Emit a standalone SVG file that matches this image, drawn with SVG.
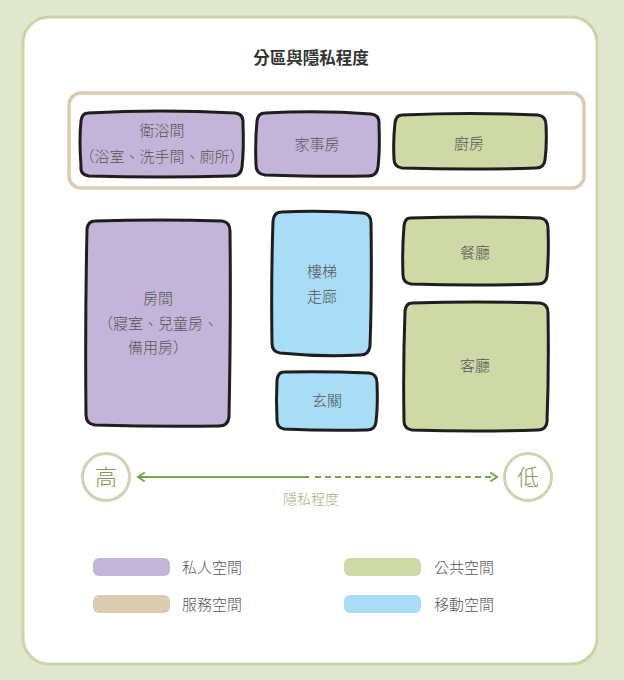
<svg xmlns="http://www.w3.org/2000/svg" width="624" height="680" viewBox="0 0 624 680">
<defs>
<style>
.t{font-family:"Noto Sans CJK TC","Noto Sans CJK SC",sans-serif;fill:#555;font-size:15px;text-anchor:middle;font-weight:300}
.room{stroke:#1e1e1e;stroke-width:3;stroke-linejoin:round}
.pv{fill:#c3b5d9}.pb{fill:#cfd8a7}.mv{fill:#a9dcf5}
.lg{font-family:"Noto Sans CJK TC","Noto Sans CJK SC",sans-serif;fill:#555;font-size:15px;font-weight:300}
</style>
<marker id="ah" viewBox="0 0 10 10" refX="8" refY="5" markerWidth="10" markerHeight="10" markerUnits="userSpaceOnUse" orient="auto-start-reverse">
<path d="M2,1 L8,5 L2,9" fill="none" stroke="#77a548" stroke-width="2" stroke-linecap="round"/>
</marker>
</defs>
<rect width="624" height="680" fill="#e1e7cd"/>
<rect x="23" y="17" width="574" height="647" rx="26" fill="#fff" stroke="#cad4ab" stroke-width="3"/>
<text x="311" y="64" class="t" style="font-weight:bold;fill:#333;font-size:16.5px">分區與隱私程度</text>

<g id="service-zone"><rect x="69" y="93" width="515" height="95" rx="12" fill="none" stroke="#dacbb3" stroke-width="3.5"/></g>

<g id="bathroom"><path class="room pv" d="M88,113 Q160,109 235,113 Q244,114 243,124 Q244,150 242,167 Q241,176 232,176 Q160,178 89,176 Q80,175 81,166 Q79,140 81,121 Q82,113 88,113Z"/>
<text x="162" y="136" class="t">衛浴間</text><text x="162" y="162" class="t">（浴室、洗手間、廁所）</text></g>
<g id="utility"><path class="room pv" d="M265,113 Q320,110 371,114 Q380,115 379,125 Q380,150 378,167 Q377,176 368,176 Q320,177 265,175 Q256,174 256,165 Q255,140 257,121 Q258,113 265,113Z"/>
<text x="317" y="150" class="t">家事房</text></g>
<g id="kitchen"><path class="room pb" d="M402,115 Q470,112 538,115 Q546,116 546,125 Q547,145 545,160 Q544,168 536,168 Q470,170 402,168 Q394,167 394,159 Q393,140 395,123 Q396,115 402,115Z"/>
<text x="469" y="149" class="t">廚房</text></g>

<g id="bedroom"><path class="room pv" d="M95,221 Q160,219 222,221 Q230,222 230,231 Q231,320 229,417 Q228,426 219,426 Q160,427 95,425 Q86,424 86,415 Q85,320 87,229 Q88,221 95,221Z"/>
<text x="158" y="304" class="t">房間</text><text x="158" y="329" class="t">（寢室、兒童房、</text><text x="158" y="353" class="t">備用房）</text></g>
<g id="corridor"><path class="room mv" d="M281,212 Q320,210 363,213 Q371,214 371,223 Q372,290 370,346 Q369,355 360,355 Q320,357 280,353 Q272,352 272,343 Q271,280 273,221 Q274,212 281,212Z"/>
<text x="322" y="277" class="t">樓梯</text><text x="322" y="302" class="t">走廊</text></g>
<g id="entrance"><path class="room mv" d="M284,372 Q325,371 369,373 Q377,374 377,383 Q378,405 376,422 Q375,430 367,430 Q325,431 284,429 Q277,428 277,420 Q276,400 277,380 Q278,372 284,372Z"/>
<text x="327" y="406" class="t">玄關</text></g>
<g id="dining"><path class="room pb" d="M410,218 Q475,216 540,218 Q548,219 548,228 Q549,255 547,276 Q546,284 538,284 Q475,286 411,284 Q403,283 403,275 Q402,250 404,226 Q405,218 410,218Z"/>
<text x="475" y="258" class="t">餐廳</text></g>
<g id="living"><path class="room pb" d="M412,303 Q475,301 540,303 Q548,304 548,313 Q549,370 547,422 Q546,430 538,430 Q475,432 412,430 Q404,429 404,421 Q403,365 405,311 Q406,303 412,303Z"/>
<text x="475" y="371" class="t">客廳</text></g>

<g id="scale">
<circle cx="106" cy="477" r="23.5" fill="#fff" stroke="#cdd4b3" stroke-width="3"/>
<circle cx="528" cy="477" r="23.5" fill="#fff" stroke="#cdd4b3" stroke-width="3"/>
<text x="106" y="485" class="t" style="font-size:22px;fill:#7d9a57">高</text>
<text x="528" y="485" class="t" style="font-size:22px;fill:#7d9a57">低</text>
<text x="311" y="504" class="t" style="font-size:14px;fill:#9db67e">隱私程度</text>
</g>
<g id="connectors" fill="none" stroke="#77a548" stroke-width="2">
<line x1="309" y1="477" x2="138" y2="477" marker-end="url(#ah)"/>
<line x1="315" y1="477" x2="497" y2="477" stroke-dasharray="6,4" marker-end="url(#ah)"/>
</g>

<g id="legend">
<rect x="93" y="558" width="77" height="18" rx="6" fill="#c3b5d9"/>
<rect x="93" y="595" width="77" height="18" rx="6" fill="#dccbb3"/>
<rect x="344" y="558" width="77" height="18" rx="6" fill="#cfd8a7"/>
<rect x="344" y="595" width="77" height="18" rx="6" fill="#a9dcf5"/>
<text x="182" y="573" class="lg">私人空間</text>
<text x="182" y="610" class="lg">服務空間</text>
<text x="434" y="573" class="lg">公共空間</text>
<text x="434" y="610" class="lg">移動空間</text>
</g>
</svg>
